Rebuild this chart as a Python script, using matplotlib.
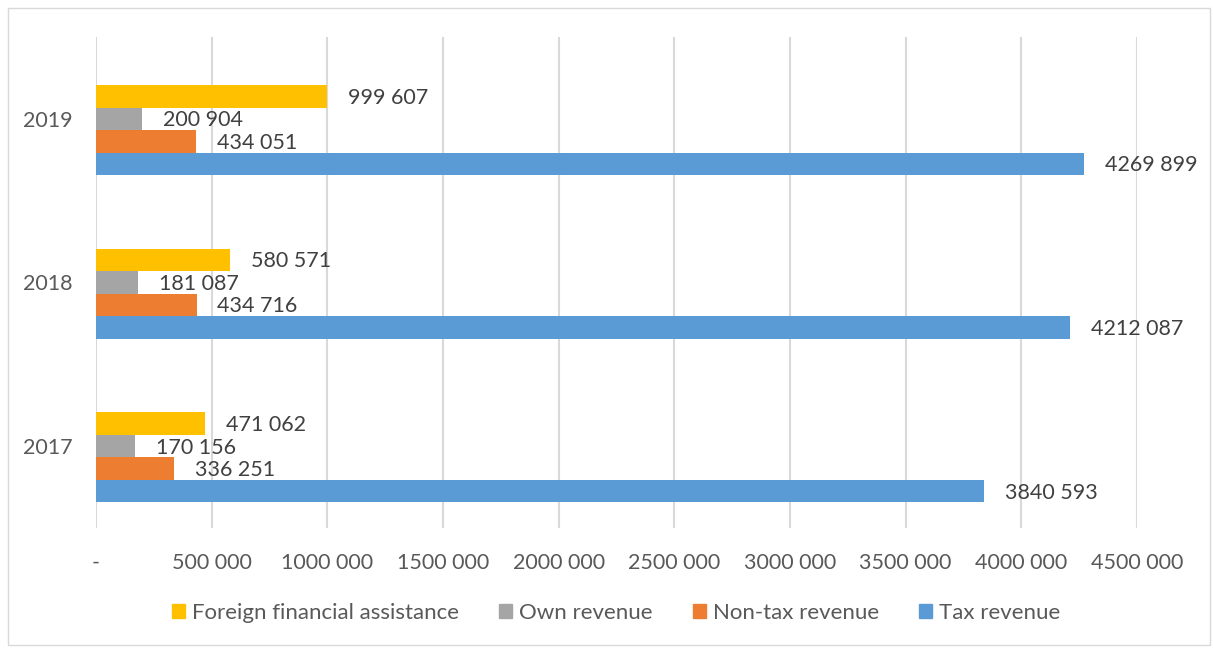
import numpy as np
import matplotlib.pyplot as plt
from matplotlib.patches import Rectangle, Patch

plt.rcParams['font.family'] = ['Lato', 'DejaVu Sans']

years = ["2017", "2018", "2019"]
tax_revenue = [3840593, 4212087, 4269899]
non_tax_revenue = [336251, 434716, 434051]
own_revenue = [170156, 181087, 200904]
foreign_assistance = [471062, 580571, 999607]

series = [
    ("Tax revenue", tax_revenue, "#5B9BD5"),
    ("Non-tax revenue", non_tax_revenue, "#ED7D31"),
    ("Own revenue", own_revenue, "#A5A5A5"),
    ("Foreign financial assistance", foreign_assistance, "#FFC000"),
]

def fmt(v):
    v = int(round(v))
    if v == 0:
        return "-"
    return f"{v // 1000} {v % 1000:03d}"

fig = plt.figure(figsize=(12.13, 6.48), dpi=100)
ax = fig.add_axes([96 / 1213, 1 - 528 / 648, (1137 - 96) / 1213, (528 - 37) / 648])

# 5 slots per category, top slot empty (as in the source chart)
h = 0.1376
y = np.arange(len(years))
for i, (name, vals, col) in enumerate(series):
    pos = y + (i - 2) * h
    ax.barh(pos, vals, height=h, color=col, zorder=3)
    for p, v in zip(pos, vals):
        ax.annotate(fmt(v), (v, p), xytext=(15, -1), textcoords="offset points",
                    va="center", ha="left", fontsize=15.5, color="#404040")

ax.set_xlim(0, 4500000)
ax.set_ylim(-0.5, 2.5)
ax.set_xticks(np.arange(0, 4500001, 500000))
ax.set_xticklabels([fmt(v) for v in np.arange(0, 4500001, 500000)])
ax.set_yticks(y)
ax.set_yticklabels(years)
ax.grid(axis="x", color="#D9D9D9", linewidth=1.5, zorder=0)
for s in ax.spines.values():
    s.set_visible(False)
ax.tick_params(axis="x", length=0, pad=18, labelsize=15.5, labelcolor="#595959")
ax.tick_params(axis="y", length=0, pad=17, labelsize=15.5, labelcolor="#595959")

handles = [Patch(color=c, label=n) for n, _, c in series[::-1]]
fig.legend(handles=handles, loc="center", bbox_to_anchor=(616 / 1213, 1 - 613 / 648),
           ncol=4, frameon=False, fontsize=16, handlelength=0.6, handleheight=0.6,
           handletextpad=0.3, columnspacing=1.8, labelcolor="#595959")

fig.patches.append(Rectangle((8 / 1213, 3 / 648), 1202 / 1213, 637 / 648,
                             transform=fig.transFigure, fill=False,
                             edgecolor="#D9D9D9", linewidth=1))

fig.savefig("out.png", dpi=100)
